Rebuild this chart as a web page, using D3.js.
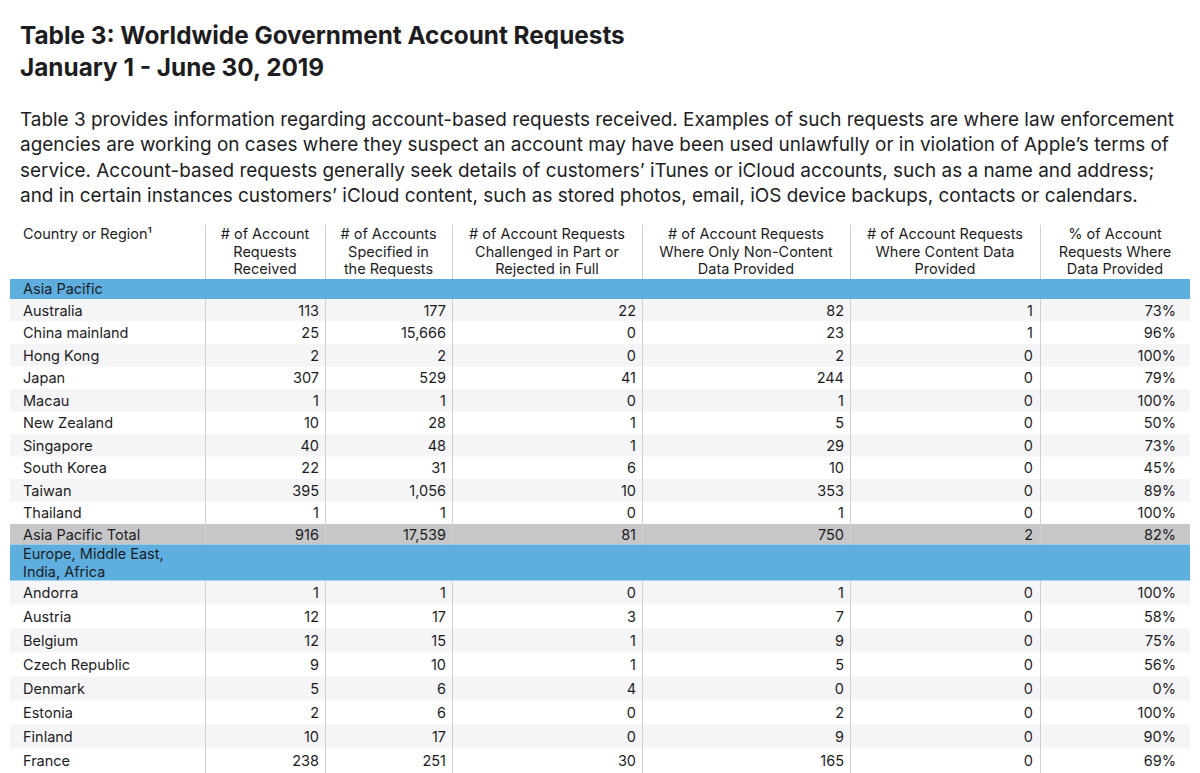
<!DOCTYPE html>
<html>
<head>
<meta charset="utf-8">
<script src="https://cdn.jsdelivr.net/npm/d3@7"></script>
<style>
  html, body { margin: 0; padding: 0; background: #fff; }
  svg { display: block; }
  text { font-family: Inter, "Noto Sans", "Liberation Sans", sans-serif; fill: #1d1d1f; }
</style>
</head>
<body>
<svg id="chart" width="1200" height="773"></svg>
<script>
// ---------------- DATA ----------------
const titleLines = ["Table 3: Worldwide Government Account Requests", "January 1 - June 30, 2019"];
const introLines = [
  "Table 3 provides information regarding account-based requests received. Examples of such requests are where law enforcement",
  "agencies are working on cases where they suspect an account may have been used unlawfully or in violation of Apple\u2019s terms of",
  "service. Account-based requests generally seek details of customers\u2019 iTunes or iCloud accounts, such as a name and address;",
  "and in certain instances customers\u2019 iCloud content, such as stored photos, email, iOS device backups, contacts or calendars."
];
const columnHeaders = [
  ["Country or Region\u00B9"],
  ["# of Account", "Requests", "Received"],
  ["# of Accounts", "Specified in", "the Requests"],
  ["# of Account Requests", "Challenged in Part or", "Rejected in Full"],
  ["# of Account Requests", "Where Only Non-Content", "Data Provided"],
  ["# of Account Requests", "Where Content Data", "Provided"],
  ["% of Account", "Requests Where", "Data Provided"]
];
const regionNames = [["Asia Pacific"], ["Europe, Middle East,", "India, Africa"]];
const countries = ["Australia", "China mainland", "Hong Kong", "Japan", "Macau", "New Zealand", "Singapore",
  "South Korea", "Taiwan", "Thailand", "Asia Pacific Total",
  "Andorra", "Austria", "Belgium", "Czech Republic", "Denmark", "Estonia", "Finland", "France"];
const countryRegion = [0,0,0,0,0,0,0,0,0,0,0, 1,1,1,1,1,1,1,1];
const isTotal =       [0,0,0,0,0,0,0,0,0,0,1, 0,0,0,0,0,0,0,0];
const requestsReceived  = [113, 25, 2, 307, 1, 10, 40, 22, 395, 1, 916, 1, 12, 12, 9, 5, 2, 10, 238];
const accountsSpecified = [177, 15666, 2, 529, 1, 28, 48, 31, 1056, 1, 17539, 1, 17, 15, 10, 6, 6, 17, 251];
const challenged        = [22, 0, 0, 41, 0, 1, 1, 6, 10, 0, 81, 0, 3, 1, 1, 4, 0, 0, 30];
const nonContentOnly    = [82, 23, 2, 244, 1, 5, 29, 10, 353, 1, 750, 1, 7, 9, 5, 0, 2, 9, 165];
const contentProvided   = [1, 1, 0, 0, 0, 0, 0, 0, 0, 0, 2, 0, 0, 0, 0, 0, 0, 0, 0];
const pctDataProvided   = [73, 96, 100, 79, 100, 50, 73, 45, 89, 100, 82, 100, 58, 75, 56, 0, 100, 90, 69];

// ---------------- LAYOUT ----------------
const svg = d3.select("#chart");
const colEdges = [10, 205, 325, 452, 642, 850, 1040, 1190];
const colPadRight = [0, 6, 6, 6, 6, 7, 14];
const C = {
  ink: "#1d1d1f", stripe: "#f5f5f7", band: "#5eafe0", total: "#c7c7c9", rule: "#cfcfd2"
};

// Title (fit width to reference)
const title = svg.append("g");
titleLines.forEach((t, i) => {
  title.append("text").attr("x", 20).attr("y", 44 + i * 31.5)
    .attr("font-size", 24).attr("font-weight", 700).text(t);
});
{
  const n = title.select("text").node();
  const w = n.getComputedTextLength();
  const fs = 24 * 605 / w;
  title.selectAll("text").attr("font-size", fs);
}

// Intro paragraph
const intro = svg.append("g");
introLines.forEach((t, i) => {
  intro.append("text").attr("x", 20).attr("y", 126 + i * 25.3)
    .attr("font-size", 19).text(t);
});
{
  const n = intro.select("text").node();
  const w = n.getComputedTextLength();
  const fs = 19 * 1155 / w;
  intro.selectAll("text").attr("font-size", fs);
}

// Build row model
const rows = [];
let y = 279;
const bandH = [20, 36];
const rowH = [22.5, 24];
let currentRegion = -1;
countries.forEach((c, i) => {
  const r = countryRegion[i];
  if (r !== currentRegion) {
    rows.push({ type: "band", y, h: bandH[r], lines: regionNames[r] });
    y += bandH[r];
    currentRegion = r;
    rows.stripeIdx = 0;
  }
  const h = isTotal[i] ? 20.5 : rowH[r];
  rows.push({
    type: isTotal[i] ? "total" : "data", y, h, idx: i,
    stripe: !isTotal[i] && (rows.stripeIdx++ % 2 === 0),
    values: [c, d3.format(",")(requestsReceived[i]), d3.format(",")(accountsSpecified[i]),
      d3.format(",")(challenged[i]), d3.format(",")(nonContentOnly[i]),
      d3.format(",")(contentProvided[i]), pctDataProvided[i] + "%"]
  });
  y += h;
});
const tableBottom = 773;

const fsTable = 14.5;

// Backgrounds
const bg = svg.append("g");
rows.filter(r => r.type === "data" && r.stripe).forEach(r => {
  bg.append("rect").attr("x", colEdges[0]).attr("y", r.y).attr("width", colEdges[7] - colEdges[0])
    .attr("height", r.h).attr("fill", C.stripe);
});
rows.filter(r => r.type === "total").forEach(r => {
  bg.append("rect").attr("x", colEdges[0]).attr("y", r.y).attr("width", colEdges[7] - colEdges[0])
    .attr("height", r.h).attr("fill", C.total);
});

// Column rules
const rules = svg.append("g");
colEdges.slice(1, 7).forEach(x => {
  rules.append("line").attr("x1", x + 0.5).attr("x2", x + 0.5).attr("y1", 225).attr("y2", tableBottom)
    .attr("stroke", C.rule).attr("stroke-width", 1);
});

// Blue region bands (cover the rules)
rows.filter(r => r.type === "band").forEach(r => {
  svg.append("rect").attr("x", colEdges[0]).attr("y", r.y).attr("width", colEdges[7] - colEdges[0])
    .attr("height", r.h).attr("fill", C.band);
  const mid = r.y + r.h / 2;
  r.lines.forEach((t, k) => {
    svg.append("text").attr("x", 23)
      .attr("y", mid + (k - (r.lines.length - 1) / 2) * 18 + 5)
      .attr("font-size", fsTable).attr("fill", "#0b1a2b").text(t);
  });
});

// Header
const header = svg.append("g");
columnHeaders.forEach((lines, j) => {
  const cx = j === 0 ? 23 : (colEdges[j] + colEdges[j + 1]) / 2;
  lines.forEach((t, k) => {
    header.append("text").attr("x", cx).attr("y", 239 + k * 17.5)
      .attr("text-anchor", j === 0 ? "start" : "middle")
      .attr("font-size", fsTable).text(t);
  });
});

// Cell text
const body = svg.append("g");
rows.filter(r => r.type !== "band").forEach(r => {
  r.values.forEach((v, j) => {
    body.append("text")
      .attr("x", j === 0 ? 23 : colEdges[j + 1] - colPadRight[j])
      .attr("y", r.y + r.h / 2 + 5.5)
      .attr("text-anchor", j === 0 ? "start" : "end")
      .attr("font-size", fsTable).text(v);
  });
});
</script>
</body>
</html>
